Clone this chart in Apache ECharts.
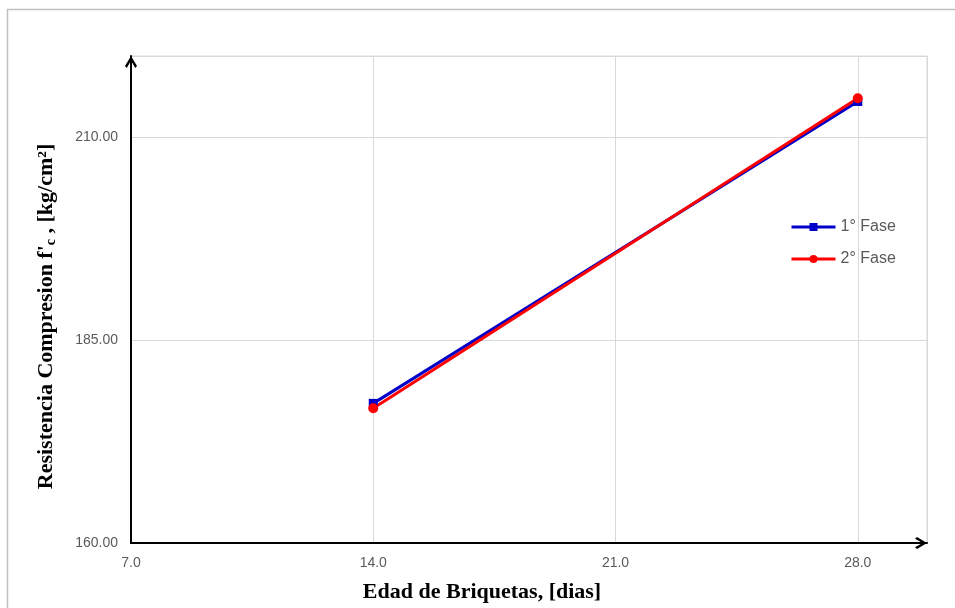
<!DOCTYPE html>
<html>
<head>
<meta charset="utf-8">
<script src="https://cdn.jsdelivr.net/npm/echarts@6/dist/echarts.min.js"></script>
<style>
  html, body { margin: 0; padding: 0; background: #fff; }
  #chart { width: 955px; height: 608px; }
</style>
</head>
<body>
<div id="chart"></div>
<script>
// Ages of the briquettes (days) and compressive strength per phase
const edades = [14, 28];
const fase1 = [177.2, 214.4];
const fase2 = [176.6, 214.8];
const serieNombres = ['1° Fase', '2° Fase'];

// Open chevron used as the arrow head at the end of each axis
const chevron = 'path://M6,0 L12,10 L10.2,12 L6,4.4 L1.8,12 L0,10 Z';

const labelFont = 'Liberation Sans';

const chart = echarts.init(document.getElementById('chart'));

const toPairs = (xs, ys) => xs.map((x, i) => [x, ys[i]]);

const axisLineStyle = {
  show: true,
  symbol: ['none', chevron],
  symbolSize: [12, 12],
  symbolOffset: [0, -6],
  lineStyle: { color: '#000', width: 2 }
};

chart.setOption({
  animation: false,
  backgroundColor: '#ffffff',
  graphic: [{
    type: 'rect',
    shape: { x: 7.5, y: 9.5, width: 1000, height: 700 },
    style: { fill: 'none', stroke: '#c0c0c0', lineWidth: 1.5 },
    silent: true,
    z: -10
  }],
  grid: {
    left: 131, top: 56, right: 28, bottom: 62,
    show: true, borderColor: '#d9d9d9', borderWidth: 1
  },
  legend: {
    orient: 'vertical',
    left: 785, top: 214,
    itemWidth: 44, itemHeight: 10, itemGap: 16,
    lineStyle: { width: 3 },
    textStyle: { color: '#595959', fontSize: 16, fontFamily: 'Liberation Sans' },
    data: serieNombres
  },
  xAxis: {
    type: 'value',
    min: 7, max: 30, interval: 7,
    name: 'Edad de Briquetas, [dias]',
    nameLocation: 'middle', nameGap: 38,
    nameTextStyle: {
      fontFamily: 'Liberation Serif', fontWeight: 'bold', fontSize: 22, color: '#000',
      padding: [0, 94, 0, 0]
    },
    axisLine: axisLineStyle,
    axisTick: { show: false },
    axisLabel: {
      color: '#595959', fontSize: 14, fontFamily: labelFont, margin: 13,
      showMaxLabel: false,
      formatter: v => v.toFixed(1)
    },
    splitLine: { show: true, lineStyle: { color: '#d9d9d9', width: 1 } }
  },
  yAxis: {
    type: 'value',
    min: 160, max: 220, interval: 25,
    name: "{t|Resistencia Compresion f'}{s|c}{t| , [kg/cm²]}",
    nameLocation: 'middle', nameGap: 73, nameRotate: 90,
    nameTextStyle: {
      padding: [0, 34, 0, 0],
      rich: {
        t: { fontFamily: 'Liberation Serif', fontWeight: 'bold', fontSize: 22, color: '#000' },
        s: { fontFamily: 'Liberation Serif', fontWeight: 'bold', fontSize: 14, color: '#000', verticalAlign: 'bottom', padding: [10, 0, 0, 0] }
      }
    },
    axisLine: axisLineStyle,
    axisTick: { show: false },
    axisLabel: {
      color: '#595959', fontSize: 14, fontFamily: labelFont, margin: 13,
      showMaxLabel: false,
      formatter: v => v.toFixed(2)
    },
    splitLine: { show: true, lineStyle: { color: '#d9d9d9', width: 1 } }
  },
  series: [
    {
      name: serieNombres[0],
      type: 'line',
      data: toPairs(edades, fase1),
      symbol: 'rect', symbolSize: 9,
      itemStyle: { color: '#0000c8' },
      lineStyle: { color: '#0000c8', width: 3 }
    },
    {
      name: serieNombres[1],
      type: 'line',
      data: toPairs(edades, fase2),
      symbol: 'circle', symbolSize: 10,
      itemStyle: { color: '#ff0000' },
      lineStyle: { color: '#ff0000', width: 3 }
    }
  ]
});
</script>
</body>
</html>
